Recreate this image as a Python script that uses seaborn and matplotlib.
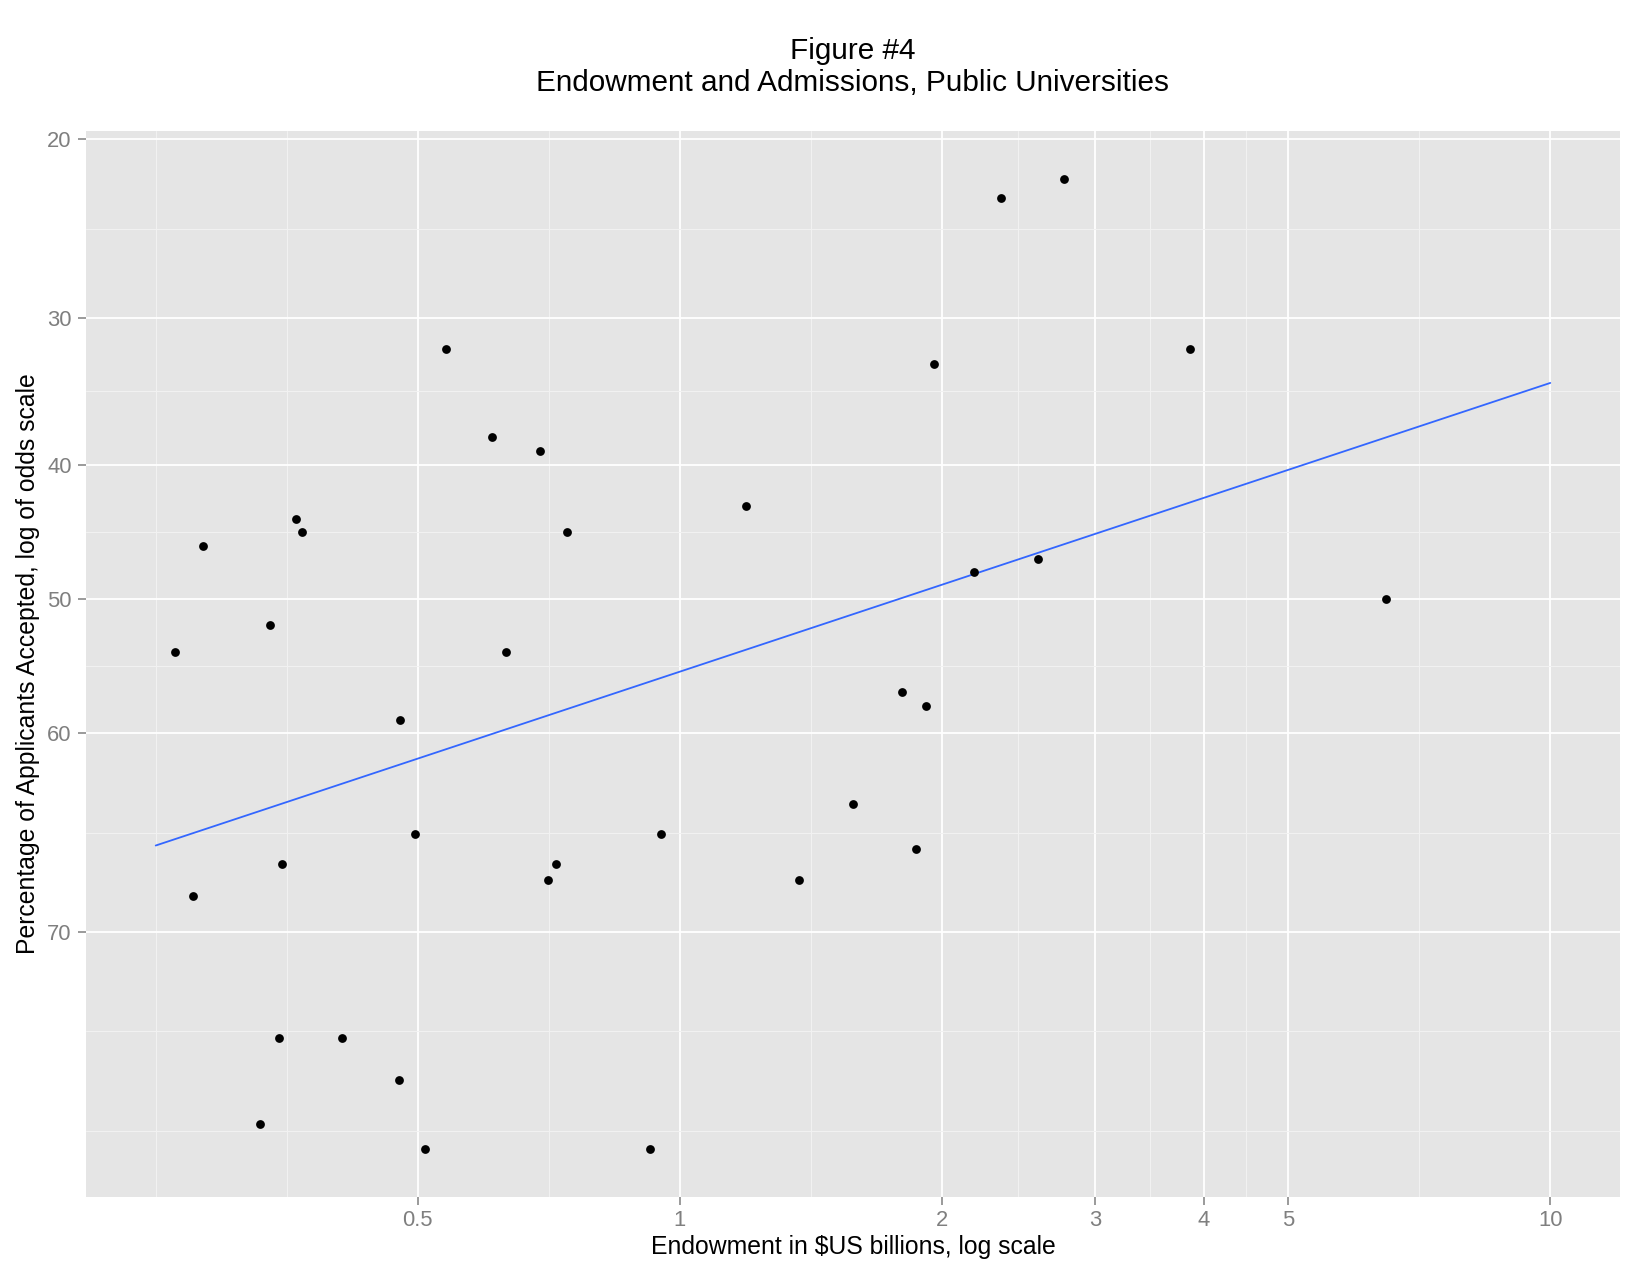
import numpy as np
import matplotlib
matplotlib.use("Agg")
import matplotlib.pyplot as plt
import matplotlib.ticker as mticker
import seaborn as sns

# endowment ($US billions) and acceptance rate (%) per university
endowment = [2.76, 2.34, 0.539, 3.86, 1.96, 0.609, 0.691, 1.19, 0.362, 0.368,
             0.742, 0.283, 2.58, 2.18, 6.48, 0.338, 0.263, 0.632, 1.80, 1.92,
             0.477, 1.58, 0.496, 0.951, 1.87, 0.349, 0.720, 0.706, 1.37, 0.276,
             0.346, 0.409, 0.476, 0.329, 0.510, 0.925]
accepted = [22, 23, 32, 32, 33, 38, 39, 43, 44, 45,
            45, 46, 47, 48, 50, 52, 54, 54, 57, 58,
            59, 65, 67, 67, 68, 69, 69, 70, 70, 71,
            79, 79, 81, 83, 84, 84]

x_limits = [0.25, 10]
x_breaks = [0.5, 1, 2, 3, 4, 5, 10]
x_labels = ["0.5", "1", "2", "3", "4", "5", "10"]
y_breaks = [20, 30, 40, 50, 60, 73.2]
y_labels = ["20", "30", "40", "50", "60", "70"]


def logit(p):
    p = np.asarray(p, dtype=float)
    with np.errstate(divide="ignore", invalid="ignore"):
        return np.log(p / (100 - p))


def inv_logit(t):
    t = np.asarray(t, dtype=float)
    return 100 / (1 + np.exp(-t))


def minor_breaks(major_t, lo, hi):
    # ggplot-like: midpoints between majors, extended one step past the ends
    b = list(major_t)
    if lo < b[0]:
        b = [b[0] - (b[1] - b[0])] + b
    if hi > b[-1]:
        b = b + [b[-1] + (b[-1] - b[-2])]
    out = []
    for a, c in zip(b[:-1], b[1:]):
        out.append((a + c) / 2)
    out += [b[0], b[-1]]
    return [v for v in out if lo <= v <= hi and v not in major_t]


sns.set_theme(style="darkgrid", rc={
    "axes.facecolor": "#E5E5E5",
    "figure.facecolor": "white",
    "grid.color": "white",
    "text.color": "black",
    "axes.labelcolor": "black",
})
plt.rcParams["font.family"] = ["Liberation Sans", "DejaVu Sans"]

fig = plt.figure(figsize=(16.5, 12.75), dpi=100)
ax = fig.add_axes([86 / 1650, 1 - 1197 / 1275, 1534 / 1650, 1066 / 1275])

sns.scatterplot(x=endowment, y=accepted, color="black", s=40, linewidth=0, ax=ax, zorder=3)

# linear fit in the transformed (log x, logit y) space, across the x limits
tx = np.log10(endowment)
ty = logit(accepted)
slope, icpt = np.polyfit(tx, ty, 1)
fit_x = np.array(x_limits)
fit_y = inv_logit(slope * np.log10(fit_x) + icpt)
sns.lineplot(x=fit_x, y=fit_y, color="#3366FF", linewidth=1.3, ax=ax, zorder=2)

ax.set_xscale("log")
ax.set_yscale("function", functions=(logit, inv_logit))

# limits with 5% expansion in transformed space
xlo, xhi = np.log10(x_limits[0]), np.log10(x_limits[1])
xpad = 0.05 * (xhi - xlo)
ax.set_xlim(10 ** (xlo - xpad), 10 ** (xhi + xpad))
ylo, yhi = ty.min(), ty.max()
ypad = 0.05 * (yhi - ylo)
ax.set_ylim(inv_logit(yhi + ypad), inv_logit(ylo - ypad))

ax.xaxis.set_major_locator(mticker.FixedLocator(x_breaks))
ax.xaxis.set_major_formatter(mticker.FixedFormatter(x_labels))
xmin_t = minor_breaks(list(np.log10(x_breaks)), xlo - xpad, xhi + xpad)
ax.xaxis.set_minor_locator(mticker.FixedLocator(10 ** np.array(xmin_t)))
ax.xaxis.set_minor_formatter(mticker.NullFormatter())

ax.yaxis.set_major_locator(mticker.FixedLocator(y_breaks))
ax.yaxis.set_major_formatter(mticker.FixedFormatter(y_labels))
ymin_t = minor_breaks(list(logit(y_breaks)), ylo - ypad, yhi + ypad)
ax.yaxis.set_minor_locator(mticker.FixedLocator(inv_logit(ymin_t)))
ax.yaxis.set_minor_formatter(mticker.NullFormatter())

ax.grid(which="major", color="white", linewidth=1.3)
ax.grid(which="minor", color="#F2F2F2", linewidth=0.7)
ax.set_axisbelow(True)
for s in ax.spines.values():
    s.set_visible(False)

ax.tick_params(which="major", length=5.8, width=1.1, color="#7F7F7F",
               labelcolor="#7F7F7F", labelsize=15.8)
ax.tick_params(axis="x", which="major", pad=3.5, bottom=True)
ax.tick_params(axis="y", which="major", pad=4.5, left=True)
ax.tick_params(which="minor", length=0)

ax.set_xlabel("Endowment in $US billions, log scale", fontsize=17.8, color="black")
ax.set_ylabel("Percentage of Applicants Accepted, log of odds scale", fontsize=17.8, color="black")
ax.xaxis.set_label_coords(0.5, -0.047)
ax.xaxis.label.set_verticalalignment("center")
ax.yaxis.set_label_coords(-0.0378, 0.5)
ax.yaxis.label.set_verticalalignment("center")

fig.text(853 / 1650, 1 - 59.3 / 1275, "Figure #4", ha="center", va="baseline",
         fontsize=21.4, color="black")
fig.text(853 / 1650, 1 - 91 / 1275, "Endowment and Admissions, Public Universities",
         ha="center", va="baseline", fontsize=21.4, color="black")

fig.savefig("out.png", dpi=100)
